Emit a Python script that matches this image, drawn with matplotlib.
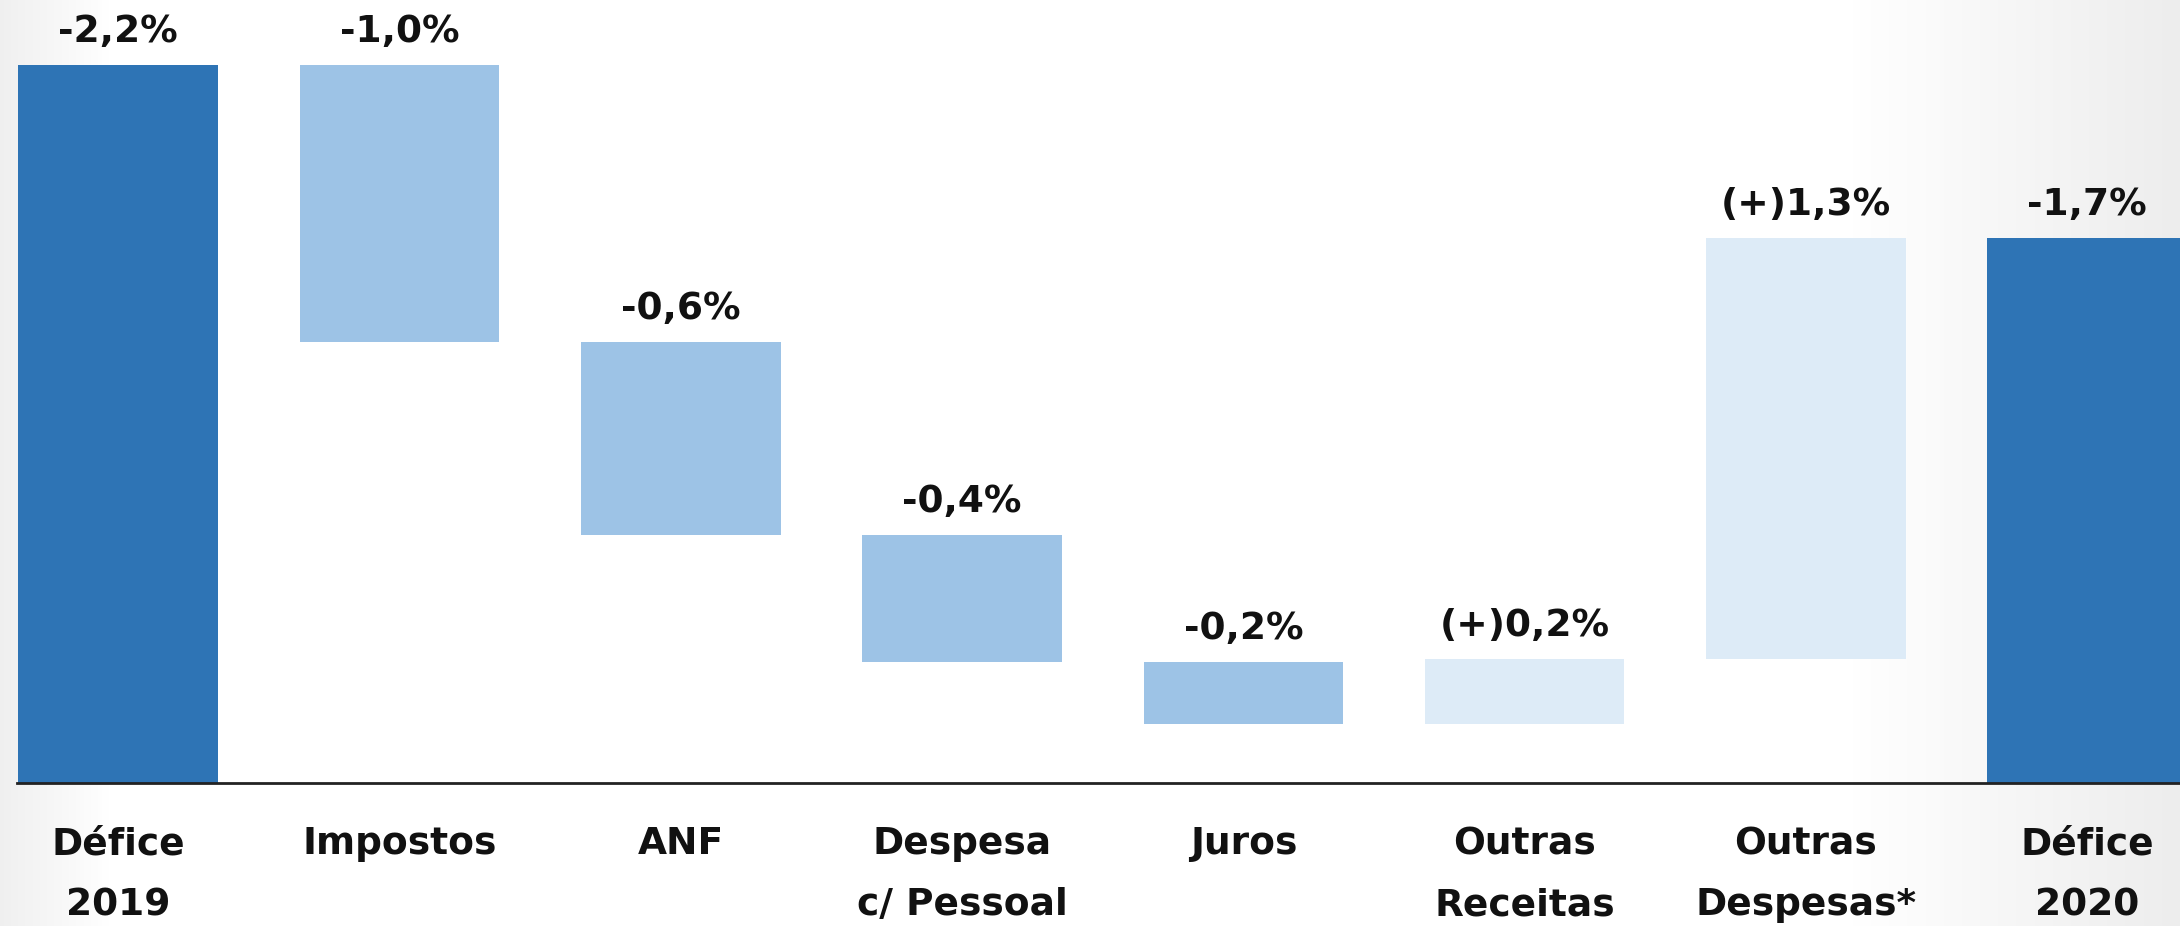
import numpy as np
import matplotlib
matplotlib.use("Agg")
import matplotlib.pyplot as plt

# ---- data ----
categories = ["Défice\n2019", "Impostos", "ANF", "Despesa\nc/ Pessoal", "Juros",
              "Outras\nReceitas", "Outras\nDespesas*", "Défice\n2020"]
start_total = -2.2          # Défice 2019 (% PIB)
deltas = [0.85, 0.59, 0.39, 0.19, -0.20, -1.29]   # contributions
end_total = -1.67           # Défice 2020
value_labels = ["-2,2%", "-1,0%", "-0,6%", "-0,4%", "-0,2%", "(+)0,2%", "(+)1,3%", "-1,7%"]
kinds = ["total", "down", "down", "down", "down", "up", "up", "total"]

colors = {"total": "#2E74B5", "down": "#9DC3E6", "up": "#DDEBF7"}

# ---- figure ----
W, H, DPI = 2180, 926, 100
fig = plt.figure(figsize=(W / DPI, H / DPI), dpi=DPI)
fig.patch.set_facecolor("white")

# subtle background gradient (slide look)
bg = fig.add_axes([0, 0, 1, 1], zorder=-10)
xs = np.linspace(0, 1, 600)
g = np.ones_like(xs)
g -= 0.06 * np.clip(1 - xs / 0.05, 0, 1)
g -= 0.07 * np.clip((xs - 0.85) / 0.15, 0, 1)
img = np.tile(g, (10, 1))
bg.imshow(np.dstack([img, img, img]), aspect="auto", extent=[0, 1, 0, 1], vmin=0, vmax=1)
bg.axis("off")

ax_bottom = (H - 783) / H
ax = fig.add_axes([17 / W, ax_bottom, 1 - 17 / W, 1 - ax_bottom])
ax.patch.set_alpha(0)

n = len(categories)
x = np.arange(n)

# waterfall bottoms / heights (values negative = deficit; axis inverted so deficit goes up)
levels = start_total + np.concatenate([[0], np.cumsum(deltas)])
bottoms = [0.0]
heights = [start_total]
for i, d in enumerate(deltas):
    before = levels[i]
    after = levels[i + 1]
    bottoms.append(after if d > 0 else before)
    heights.append(before - after if d > 0 else after - before)
bottoms.append(0.0)
heights.append(end_total)

bar_w = 0.71
bars = ax.bar(x, heights, bottom=bottoms, width=bar_w,
              color=[colors[k] for k in kinds], edgecolor="none", zorder=2)

ax.set_xlim(-0.36, 7.33)
ax.set_ylim(0, -2.399)

# value labels above bars (top = more negative end)
for i in range(n):
    top = min(bottoms[i], bottoms[i] + heights[i])
    ax.annotate(value_labels[i], xy=(x[i], top), xytext=(0, 24), textcoords="offset points",
                ha="center", va="center", fontsize=27, fontweight="bold",
                family="DejaVu Sans", color="#111111")

# category labels (two lines)
for i, lab in enumerate(categories):
    lines = lab.split("\n")
    for j, ln in enumerate(lines):
        ax.annotate(ln, xy=(x[i], 0), xycoords=("data", "axes fraction"),
                    xytext=(0, -44 - j * 44), textcoords="offset points",
                    ha="center", va="center", fontsize=27, fontweight="bold",
                    family="DejaVu Sans", color="#111111")

for s in ["top", "right", "left"]:
    ax.spines[s].set_visible(False)
ax.spines["bottom"].set_linewidth(2)
ax.spines["bottom"].set_color("#222222")
ax.set_xticks([])
ax.set_yticks([])

fig.savefig("out.png", dpi=DPI)
